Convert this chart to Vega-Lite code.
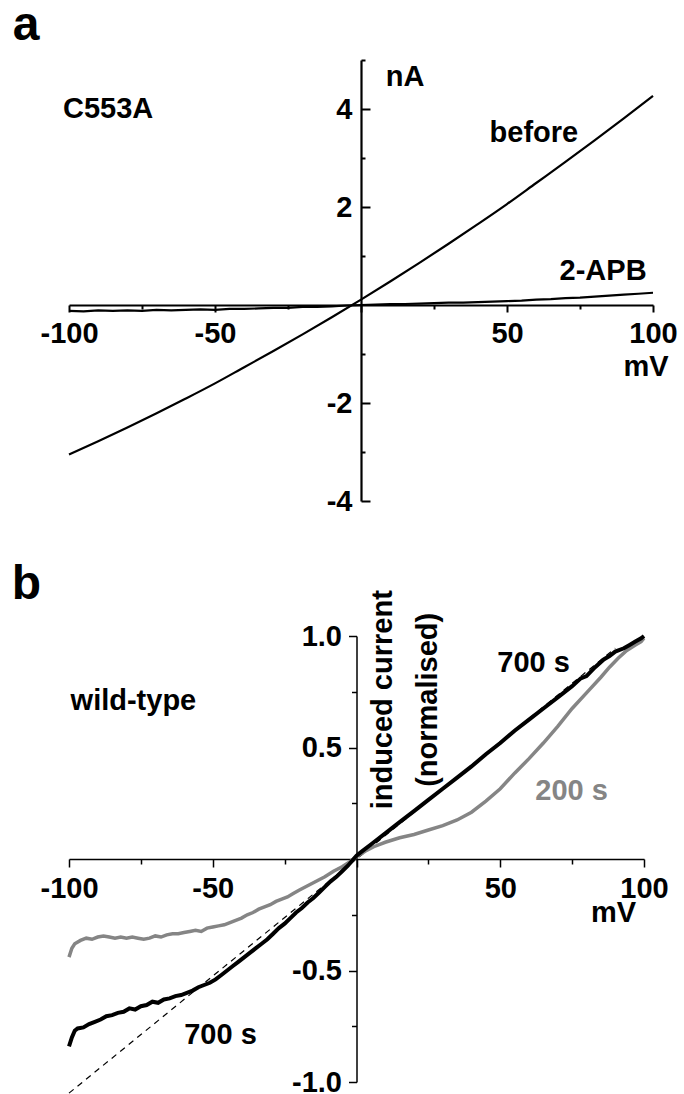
{
  "$schema": "https://vega.github.io/schema/vega-lite/v6.json",
  "background": "white",
  "padding": {"left": 11, "top": 2, "right": 0, "bottom": 0},
  "spacing": 45,
  "config": {
    "view": {"stroke": null},
    "font": "Liberation Sans",
    "axis": {"grid": false, "title": null, "domainColor": "black", "tickColor": "black", "labelColor": "black", "labelFont": "Liberation Sans", "labelFontWeight": "bold", "labelFontSize": 29, "labelFlush": false, "labelOverlap": false}
  },
  "datasets": {
    "before": [
      {"V": -100, "I": -3.05}, {"V": -90, "I": -2.78}, {"V": -80, "I": -2.5}, {"V": -70, "I": -2.21}, {"V": -60, "I": -1.91},
      {"V": -50, "I": -1.6}, {"V": -40, "I": -1.27}, {"V": -30, "I": -0.94}, {"V": -20, "I": -0.6}, {"V": -10, "I": -0.25},
      {"V": 0, "I": 0.11}, {"V": 10, "I": 0.48}, {"V": 20, "I": 0.86}, {"V": 30, "I": 1.25}, {"V": 40, "I": 1.65},
      {"V": 50, "I": 2.06}, {"V": 60, "I": 2.49}, {"V": 70, "I": 2.92}, {"V": 80, "I": 3.36}, {"V": 90, "I": 3.81}, {"V": 100, "I": 4.27}
    ],
    "apb": [
      {"V": -100, "I": -0.12}, {"V": -95, "I": -0.13}, {"V": -90, "I": -0.11}, {"V": -85, "I": -0.12}, {"V": -80, "I": -0.11},
      {"V": -75, "I": -0.12}, {"V": -70, "I": -0.1}, {"V": -65, "I": -0.11}, {"V": -60, "I": -0.1}, {"V": -55, "I": -0.09},
      {"V": -50, "I": -0.1}, {"V": -45, "I": -0.08}, {"V": -40, "I": -0.08}, {"V": -35, "I": -0.07}, {"V": -30, "I": -0.06},
      {"V": -25, "I": -0.06}, {"V": -20, "I": -0.04}, {"V": -15, "I": -0.04}, {"V": -10, "I": -0.03}, {"V": -5, "I": -0.01},
      {"V": 0, "I": 0.0}, {"V": 5, "I": 0.01}, {"V": 10, "I": 0.02}, {"V": 15, "I": 0.02}, {"V": 20, "I": 0.03},
      {"V": 25, "I": 0.04}, {"V": 30, "I": 0.05}, {"V": 35, "I": 0.05}, {"V": 40, "I": 0.06}, {"V": 45, "I": 0.07},
      {"V": 50, "I": 0.08}, {"V": 55, "I": 0.09}, {"V": 60, "I": 0.11}, {"V": 65, "I": 0.12}, {"V": 70, "I": 0.14},
      {"V": 75, "I": 0.15}, {"V": 80, "I": 0.17}, {"V": 85, "I": 0.19}, {"V": 90, "I": 0.21}, {"V": 95, "I": 0.23}, {"V": 100, "I": 0.25}
    ],
    "labelsA": [
      {"V": -86.6, "I": 4.0, "label": "C553A"},
      {"V": 15.1, "I": 4.65, "label": "nA"},
      {"V": 59.2, "I": 3.51, "label": "before"},
      {"V": 82.9, "I": 0.69, "label": "2-APB"},
      {"V": 97.6, "I": -1.27, "label": "mV"}
    ],
    "letterA": [{"V": -114.7, "I": 5.69, "label": "a"}],
    "wt700": [
      {"V": -100, "y": -0.84}, {"V": -99, "y": -0.8}, {"V": -98, "y": -0.77}, {"V": -97, "y": -0.76}, {"V": -95, "y": -0.755},
      {"V": -93, "y": -0.74}, {"V": -91, "y": -0.73}, {"V": -89, "y": -0.72}, {"V": -87, "y": -0.705}, {"V": -85, "y": -0.7},
      {"V": -83, "y": -0.69}, {"V": -81, "y": -0.685}, {"V": -79, "y": -0.67}, {"V": -77, "y": -0.675}, {"V": -75, "y": -0.66},
      {"V": -73, "y": -0.655}, {"V": -71, "y": -0.64}, {"V": -69, "y": -0.645}, {"V": -67, "y": -0.63}, {"V": -65, "y": -0.625},
      {"V": -63, "y": -0.615}, {"V": -61, "y": -0.61}, {"V": -59, "y": -0.6}, {"V": -57, "y": -0.59}, {"V": -55, "y": -0.575},
      {"V": -53, "y": -0.565}, {"V": -51, "y": -0.555}, {"V": -49, "y": -0.54}, {"V": -47, "y": -0.52}, {"V": -45, "y": -0.5},
      {"V": -43, "y": -0.48}, {"V": -41, "y": -0.46}, {"V": -39, "y": -0.44}, {"V": -37, "y": -0.42}, {"V": -35, "y": -0.4},
      {"V": -33, "y": -0.38}, {"V": -31, "y": -0.36}, {"V": -29, "y": -0.335}, {"V": -27, "y": -0.31}, {"V": -25, "y": -0.29},
      {"V": -23, "y": -0.265}, {"V": -21, "y": -0.24}, {"V": -19, "y": -0.22}, {"V": -17, "y": -0.195}, {"V": -15, "y": -0.175},
      {"V": -13, "y": -0.15}, {"V": -11, "y": -0.125}, {"V": -9, "y": -0.1}, {"V": -7, "y": -0.08}, {"V": -5, "y": -0.055},
      {"V": -3, "y": -0.03}, {"V": -1, "y": 0.0}, {"V": 0, "y": 0.015}, {"V": 2, "y": 0.035}, {"V": 5, "y": 0.065},
      {"V": 10, "y": 0.115}, {"V": 15, "y": 0.165}, {"V": 20, "y": 0.215}, {"V": 25, "y": 0.265}, {"V": 30, "y": 0.315},
      {"V": 35, "y": 0.365}, {"V": 40, "y": 0.415}, {"V": 45, "y": 0.47}, {"V": 50, "y": 0.52}, {"V": 55, "y": 0.575},
      {"V": 60, "y": 0.625}, {"V": 65, "y": 0.675}, {"V": 70, "y": 0.725}, {"V": 75, "y": 0.775}, {"V": 78, "y": 0.81},
      {"V": 80, "y": 0.82}, {"V": 83, "y": 0.86}, {"V": 86, "y": 0.895}, {"V": 88, "y": 0.91}, {"V": 90, "y": 0.93},
      {"V": 93, "y": 0.945}, {"V": 95, "y": 0.96}, {"V": 97, "y": 0.975}, {"V": 99, "y": 0.99}, {"V": 100, "y": 1.0}
    ],
    "wt200": [
      {"V": -100, "y": -0.44}, {"V": -99, "y": -0.4}, {"V": -98, "y": -0.38}, {"V": -96, "y": -0.365}, {"V": -94, "y": -0.355},
      {"V": -92, "y": -0.36}, {"V": -90, "y": -0.35}, {"V": -88, "y": -0.345}, {"V": -86, "y": -0.35}, {"V": -84, "y": -0.355},
      {"V": -82, "y": -0.35}, {"V": -80, "y": -0.355}, {"V": -78, "y": -0.35}, {"V": -76, "y": -0.355}, {"V": -74, "y": -0.36},
      {"V": -72, "y": -0.355}, {"V": -70, "y": -0.345}, {"V": -68, "y": -0.35}, {"V": -66, "y": -0.34}, {"V": -64, "y": -0.335},
      {"V": -62, "y": -0.335}, {"V": -60, "y": -0.33}, {"V": -58, "y": -0.325}, {"V": -56, "y": -0.32}, {"V": -54, "y": -0.325},
      {"V": -52, "y": -0.31}, {"V": -50, "y": -0.305}, {"V": -48, "y": -0.3}, {"V": -46, "y": -0.295}, {"V": -44, "y": -0.285},
      {"V": -42, "y": -0.275}, {"V": -40, "y": -0.265}, {"V": -38, "y": -0.25}, {"V": -36, "y": -0.24}, {"V": -34, "y": -0.225},
      {"V": -32, "y": -0.215}, {"V": -30, "y": -0.205}, {"V": -28, "y": -0.19}, {"V": -26, "y": -0.18}, {"V": -24, "y": -0.17},
      {"V": -22, "y": -0.155}, {"V": -20, "y": -0.14}, {"V": -17, "y": -0.12}, {"V": -14, "y": -0.1}, {"V": -11, "y": -0.08},
      {"V": -8, "y": -0.055}, {"V": -5, "y": -0.035}, {"V": -2, "y": -0.01}, {"V": 0, "y": 0.01}, {"V": 3, "y": 0.035},
      {"V": 6, "y": 0.055}, {"V": 10, "y": 0.075}, {"V": 15, "y": 0.095}, {"V": 20, "y": 0.11}, {"V": 25, "y": 0.13},
      {"V": 30, "y": 0.15}, {"V": 35, "y": 0.175}, {"V": 40, "y": 0.21}, {"V": 45, "y": 0.26}, {"V": 50, "y": 0.315},
      {"V": 55, "y": 0.385}, {"V": 60, "y": 0.45}, {"V": 65, "y": 0.52}, {"V": 70, "y": 0.595}, {"V": 75, "y": 0.675},
      {"V": 80, "y": 0.745}, {"V": 85, "y": 0.815}, {"V": 88, "y": 0.86}, {"V": 91, "y": 0.9}, {"V": 94, "y": 0.935},
      {"V": 97, "y": 0.96}, {"V": 99, "y": 0.975}, {"V": 100, "y": 0.99}
    ],
    "fit": [{"V": -100, "y": -1.05}, {"V": 90, "y": 0.945}],
    "labelsB": [
      {"V": -77.6, "y": 0.71, "label": "wild-type"},
      {"V": 61.6, "y": 0.88, "label": "700 s"},
      {"V": 89.4, "y": -0.24, "label": "mV"},
      {"V": -47.3, "y": -0.787, "label": "700 s"}
    ],
    "labelsBgray": [{"V": 74.8, "y": 0.306, "label": "200 s"}],
    "letterB": [{"V": -114.8, "y": 1.227, "label": "b"}],
    "ytitleB": [{"V": 9.3, "y": 0.714, "label": "induced current\n(normalised)"}]
  },
  "vconcat": [
    {
      "width": 584,
      "height": 441,
      "resolve": {"axis": {"x": "independent", "y": "independent"}},
      "layer": [
        {
          "data": {"name": "before"},
          "mark": {"type": "line", "color": "black", "strokeWidth": 2.2, "interpolate": "monotone"},
          "encoding": {
            "x": {"field": "V", "type": "quantitative", "scale": {"domain": [-100, 100], "nice": false, "zero": false},
              "axis": {"orient": "bottom", "offset": -196, "values": [-100, -50, 0, 50, 100], "tickSize": 7, "tickWidth": 2, "domainWidth": 2.2, "labelPadding": 7, "labelExpr": "datum.value == 0 ? '' : toString(datum.value)"}},
            "y": {"field": "I", "type": "quantitative", "scale": {"domain": [-4, 5], "nice": false, "zero": false},
              "axis": {"orient": "left", "offset": -292, "values": [-4, -2, 2, 4], "ticks": false, "domainWidth": 2.2, "labelPadding": 9, "labelExpr": "toString(datum.value)"}}
          }
        },
        {
          "data": {"name": "apb"},
          "mark": {"type": "line", "color": "black", "strokeWidth": 2.2},
          "encoding": {
            "x": {"field": "V", "type": "quantitative", "scale": {"domain": [-100, 100], "nice": false, "zero": false},
              "axis": {"orient": "bottom", "offset": -196, "values": [-75, -25, 25, 75], "tickSize": 4, "tickWidth": 2, "domain": false, "labels": false}},
            "y": {"field": "I", "type": "quantitative", "scale": {"domain": [-4, 5], "nice": false, "zero": false},
              "axis": {"orient": "right", "offset": -292, "values": [-4, -2, 2, 4], "tickSize": 9, "tickWidth": 2, "domain": false, "labels": false}}
          }
        },
        {
          "data": {"name": "labelsA"},
          "mark": {"type": "text", "font": "Liberation Sans", "fontWeight": "bold", "fontSize": 29, "align": "center", "baseline": "middle", "color": "black"},
          "encoding": {
            "x": {"field": "V", "type": "quantitative", "axis": null},
            "y": {"field": "I", "type": "quantitative",
              "axis": {"orient": "right", "offset": -292, "values": [-3, -1, 1, 3, 5], "tickSize": 4, "tickWidth": 2, "domain": false, "labels": false}},
            "text": {"field": "label"}
          }
        },
        {
          "data": {"name": "letterA"},
          "mark": {"type": "text", "font": "Liberation Sans", "fontWeight": "bold", "fontSize": 48, "align": "center", "baseline": "middle", "color": "black"},
          "encoding": {
            "x": {"field": "V", "type": "quantitative", "axis": null},
            "y": {"field": "I", "type": "quantitative", "axis": null},
            "text": {"field": "label"}
          }
        }
      ]
    },
    {
      "width": 575,
      "height": 446,
      "resolve": {"axis": {"x": "independent", "y": "independent"}},
      "layer": [
        {
          "data": {"name": "fit"},
          "mark": {"type": "line", "color": "black", "strokeWidth": 1.2, "strokeDash": [6, 5]},
          "encoding": {
            "x": {"field": "V", "type": "quantitative", "scale": {"domain": [-100, 100], "nice": false, "zero": false}, "axis": null},
            "y": {"field": "y", "type": "quantitative", "scale": {"domain": [-1, 1], "nice": false, "zero": false}, "axis": null}
          }
        },
        {
          "data": {"name": "wt200"},
          "mark": {"type": "line", "color": "#858585", "strokeWidth": 3.5},
          "encoding": {
            "x": {"field": "V", "type": "quantitative", "scale": {"domain": [-100, 100], "nice": false, "zero": false},
              "axis": {"orient": "bottom", "offset": -223, "values": [-75, -25, 25, 75], "tickSize": 5, "tickWidth": 1.5, "domain": false, "labels": false}},
            "y": {"field": "y", "type": "quantitative", "scale": {"domain": [-1, 1], "nice": false, "zero": false},
              "axis": {"orient": "left", "offset": -287.5, "values": [-0.75, -0.25, 0.25, 0.75], "tickSize": 5, "tickWidth": 1.5, "domain": false, "labels": false}}
          }
        },
        {
          "data": {"name": "wt700"},
          "mark": {"type": "line", "color": "black", "strokeWidth": 4},
          "encoding": {
            "x": {"field": "V", "type": "quantitative", "scale": {"domain": [-100, 100], "nice": false, "zero": false},
              "axis": {"orient": "bottom", "offset": -223, "values": [-100, -50, 0, 50, 100], "tickSize": 8, "tickWidth": 1.5, "domainWidth": 1.5, "labelPadding": 7, "labelExpr": "datum.value == 0 ? '' : toString(datum.value)"}},
            "y": {"field": "y", "type": "quantitative", "scale": {"domain": [-1, 1], "nice": false, "zero": false},
              "axis": {"orient": "left", "offset": -287.5, "values": [-1, -0.5, 0.5, 1], "tickSize": 8, "tickWidth": 1.5, "domainWidth": 1.5, "labelPadding": 7, "labelExpr": "datum.value == 1 ? '1.0' : datum.value == -1 ? '-1.0' : toString(datum.value)"}}
          }
        },
        {
          "data": {"name": "labelsB"},
          "mark": {"type": "text", "font": "Liberation Sans", "fontWeight": "bold", "fontSize": 29, "align": "center", "baseline": "middle", "color": "black"},
          "encoding": {
            "x": {"field": "V", "type": "quantitative", "axis": null},
            "y": {"field": "y", "type": "quantitative", "axis": null},
            "text": {"field": "label"}
          }
        },
        {
          "data": {"name": "labelsBgray"},
          "mark": {"type": "text", "font": "Liberation Sans", "fontWeight": "bold", "fontSize": 29, "align": "center", "baseline": "middle", "color": "#858585"},
          "encoding": {
            "x": {"field": "V", "type": "quantitative", "axis": null},
            "y": {"field": "y", "type": "quantitative", "axis": null},
            "text": {"field": "label"}
          }
        },
        {
          "data": {"name": "letterB"},
          "mark": {"type": "text", "font": "Liberation Sans", "fontWeight": "bold", "fontSize": 48, "align": "center", "baseline": "middle", "color": "black"},
          "encoding": {
            "x": {"field": "V", "type": "quantitative", "axis": null},
            "y": {"field": "y", "type": "quantitative", "axis": null},
            "text": {"field": "label"}
          }
        },
        {
          "data": {"name": "ytitleB"},
          "mark": {"type": "text", "font": "Liberation Sans", "fontWeight": "bold", "fontSize": 29, "align": "center", "baseline": "middle", "angle": 270, "lineBreak": "\n", "lineHeight": 45, "color": "black"},
          "encoding": {
            "x": {"field": "V", "type": "quantitative", "axis": null},
            "y": {"field": "y", "type": "quantitative", "axis": null},
            "text": {"field": "label"}
          }
        }
      ]
    }
  ]
}
